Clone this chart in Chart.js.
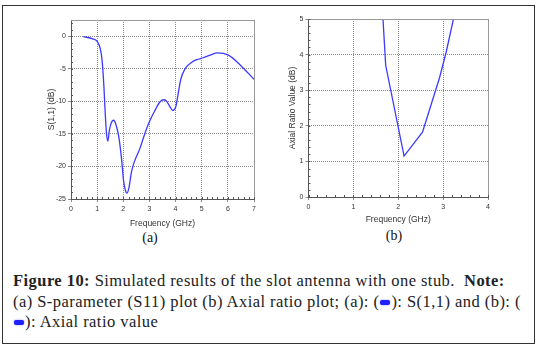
<!DOCTYPE html>
<html>
<head>
<meta charset="utf-8">
<script src="https://cdn.jsdelivr.net/npm/chart.js@4"></script>
<style>
  body { margin: 0; width: 539px; height: 349px; background: #fff; position: relative; overflow: hidden; }
  #frame { position: absolute; left: 2px; top: 5px; width: 531px; height: 337px; border: 1px solid #333; }
  #wrapA { position: absolute; left: 47px; top: 10px; width: 219px; height: 219px; }
  #wrapB { position: absolute; left: 288px; top: 10px; width: 212px; height: 215px; }
  .sub { position: absolute; font-family: "Liberation Serif", serif; font-size: 14px; color: #111; transform: translate(-50%, -50%); }
  #caption { position: absolute; left: 13px; top: 271px; font-family: "Liberation Serif", serif; font-size: 16.5px; letter-spacing: 0.45px; line-height: 20.5px; color: #222; white-space: nowrap; }
  .sw { display: inline-block; width: 10px; height: 5px; border-radius: 2px; background: #2020ff; box-shadow: 0 0 2px #8080ff; vertical-align: 2px; margin: 0 1px; }
</style>
</head>
<body>
<div id="frame"></div>
<div id="wrapA"><canvas id="chartA"></canvas></div>
<div id="wrapB"><canvas id="chartB"></canvas></div>
<div class="sub" style="left:150px; top:238px;">(a)</div>
<div class="sub" style="left:394px; top:236px;">(b)</div>
<div id="caption"><b>Figure 10:</b> Simulated results of the slot antenna with one stub.&nbsp; <b>Note:</b><br>(a) S-parameter (S11) plot (b) Axial ratio plot; (a): (<span class="sw"></span>): S(1,1) and (b): (<br><span class="sw"></span>): Axial ratio value</div>
<script>
// (a) S11
const freqA = [0.47, 0.83, 1.0, 1.12, 1.19, 1.26, 1.31, 1.36, 1.41, 1.47, 1.55, 1.63, 1.73, 1.83, 1.94, 2.01, 2.09, 2.14, 2.22, 2.31, 2.44, 2.63, 2.82, 2.99, 3.21, 3.4, 3.53, 3.65, 3.78, 3.89, 4.01, 4.1, 4.2, 4.36, 4.62, 4.81, 5.06, 5.32, 5.6, 6.02, 6.47, 7.0];
const s11 = [-0.05, -0.4, -0.8, -1.9, -3.7, -7.8, -11.9, -15, -16.1, -14.4, -13.2, -12.9, -13.7, -15.5, -19.1, -22.2, -23.8, -24.1, -23.2, -20.9, -19.1, -17.3, -15, -13.2, -11.4, -10.1, -9.75, -9.95, -10.8, -11.4, -10.8, -8.8, -6.6, -5.0, -4.0, -3.6, -3.3, -2.9, -2.55, -2.9, -4.4, -6.6];
const xTicksA = [0, 1, 2, 3, 4, 5, 6, 7];
const yTicksA = [-25, -20, -15, -10, -5, 0];

// (b) axial ratio
const freqB = [1.66, 1.72, 2.13, 2.54, 2.92, 3.07, 3.23];
const axialRatio = [5, 3.7, 1.15, 1.82, 3.35, 4.08, 5];
const xTicksB = [0, 1, 2, 3, 4];
const yTicksB = [0, 1, 2, 3, 4, 5];

const lineBlue = '#3a3aff';
const tickFont = { family: 'Liberation Sans, Arial, sans-serif', size: 7 };
const titleFont = { family: 'Liberation Sans, Arial, sans-serif', size: 8.5 };

// box on top/right plus small inner minor ticks
const frameAndMinor = {
  id: 'frameAndMinor',
  afterDraw(chart, args, opts) {
    const { ctx, chartArea: a, scales: { x, y } } = chart;
    ctx.save();
    ctx.strokeStyle = '#999';
    ctx.lineWidth = 1;
    ctx.beginPath();
    ctx.moveTo(a.left, a.top + 0.5); ctx.lineTo(a.right + 0.5, a.top + 0.5); ctx.lineTo(a.right + 0.5, a.bottom);
    ctx.stroke();
    ctx.strokeStyle = '#555';
    ctx.beginPath();
    for (let v = x.min; v <= x.max + 1e-9; v += opts.xStep) {
      const px = Math.round(x.getPixelForValue(v)) + 0.5;
      ctx.moveTo(px, a.bottom); ctx.lineTo(px, a.bottom - 2);
    }
    for (let v = opts.yStart; v <= y.max + 1e-9; v += opts.yStep) {
      const py = Math.round(y.getPixelForValue(v)) + 0.5;
      ctx.moveTo(a.left, py); ctx.lineTo(a.left + 2, py);
    }
    ctx.stroke();
    ctx.restore();
  }
};

function axis(ticksList, min, max, title, fit, isX) {
  return {
    type: 'linear',
    min: min,
    max: max,
    afterBuildTicks: s => { s.ticks = ticksList.map(v => ({ value: v })); },
    afterFit: s => { if (isX) s.height = fit; else s.width = fit; },
    grid: { color: '#8a8a8a', lineWidth: 1, tickLength: 3, drawTicks: true },
    border: { color: '#555', width: 1, dash: [1, 1] },
    ticks: { font: tickFont, color: '#333', padding: isX ? 3 : 2, maxRotation: 0 },
    title: { display: true, text: title, font: titleFont, color: '#333', padding: 0 }
  };
}

new Chart(document.getElementById('chartA'), {
  type: 'line',
  data: {
    datasets: [{
      label: 'S(1,1)',
      data: freqA.map((f, i) => ({ x: f, y: s11[i] })),
      borderColor: lineBlue,
      borderWidth: 1.3,
      pointRadius: 0,
      cubicInterpolationMode: 'monotone',
      fill: false
    }]
  },
  options: {
    responsive: true,
    maintainAspectRatio: false,
    animation: false,
    layout: { padding: { top: 10, right: 12, left: 0, bottom: 0 } },
    plugins: { legend: { display: false }, tooltip: { enabled: false }, frameAndMinor: { xStep: 0.2, yStep: 1, yStart: -25 } },
    scales: {
      x: axis(xTicksA, 0, 7, 'Frequency (GHz)', 30, true),
      y: axis(yTicksA, -25, 2.5, 'S(1,1) (dB)', 24, false)
    }
  },
  plugins: [frameAndMinor]
});

new Chart(document.getElementById('chartB'), {
  type: 'line',
  data: {
    datasets: [{
      label: 'Axial ratio value',
      data: freqB.map((f, i) => ({ x: f, y: axialRatio[i] })),
      borderColor: lineBlue,
      borderWidth: 1.3,
      pointRadius: 0,
      tension: 0,
      fill: false
    }]
  },
  options: {
    responsive: true,
    maintainAspectRatio: false,
    animation: false,
    layout: { padding: { top: 9, right: 12, left: 0, bottom: 0 } },
    plugins: { legend: { display: false }, tooltip: { enabled: false }, frameAndMinor: { xStep: 0.2, yStep: 0.2, yStart: 0 } },
    scales: {
      x: axis(xTicksB, 0, 4, 'Frequency (GHz)', 28, true),
      y: axis(yTicksB, 0, 5, 'Axial Ratio Value (dB)', 20.5, false)
    }
  },
  plugins: [frameAndMinor]
});
</script>
</body>
</html>
